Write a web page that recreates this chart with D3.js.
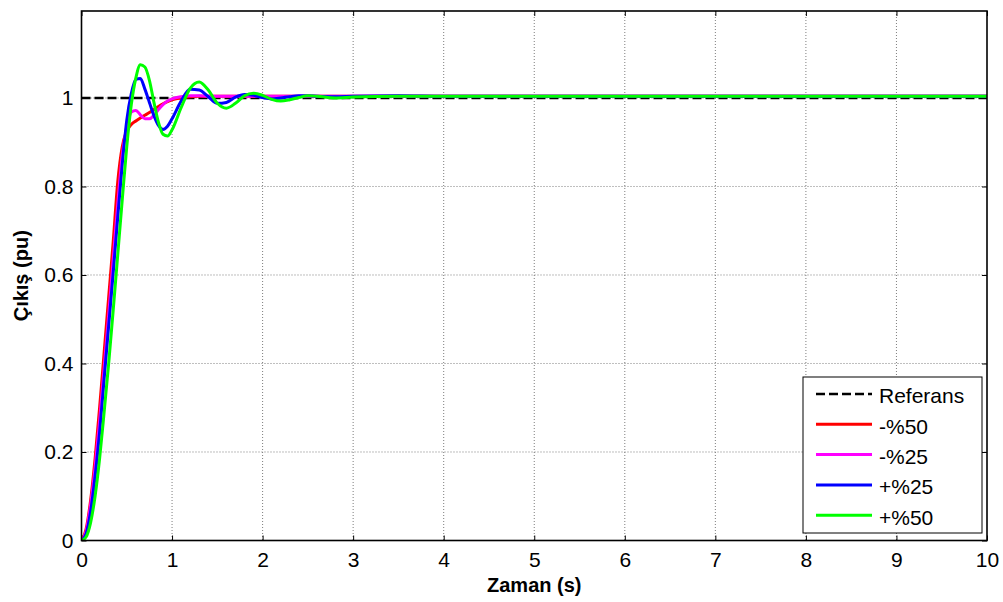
<!DOCTYPE html>
<html>
<head>
<meta charset="utf-8">
<script src="https://cdn.jsdelivr.net/npm/d3@7"></script>
<style>
html,body{margin:0;padding:0;background:#fff;}
svg{display:block;font-family:"Liberation Sans",Arial,sans-serif;}
</style>
</head>
<body>
<svg id="chart" width="1003" height="602"></svg>
<script>
// ---- data ----
const time = [0,0.05,0.1,0.15,0.2,0.25,0.3,0.35,0.4,0.45,0.5,0.55,0.6,0.65,0.7,0.75,0.8,0.85,0.9,0.95,1.0,1.1,1.2,1.3,1.4,1.5,1.6,1.7,1.8,1.9,2.0,2.1,2.2,2.3,2.4,2.5,2.6,2.8,3.0,3.5,4,5,6,7,8,9,10];
const referans = time.map(() => 1);
const minus50 = [0,0.025,0.09,0.185,0.3,0.425,0.55,0.675,0.81,0.89,0.925,0.94,0.948,0.955,0.961,0.967,0.974,0.981,0.987,0.992,0.996,1.0,1.003,
  1.004,1.004,1.004,1.004,1.004,1.004,1.004,1.004,1.004,1.004,1.004,1.004,1.004,1.004,1.004,1.004,1.004,1.004,1.004,1.004,1.004,1.004,1.004,1.004];
const minus25 = [0,0.02,0.08,0.165,0.27,0.39,0.51,0.635,0.76,0.87,0.935,0.968,0.972,0.962,0.953,0.953,0.961,0.974,0.985,0.993,0.998,1.003,1.005,
  1.005,1.004,1.004,1.004,1.004,1.004,1.004,1.004,1.004,1.004,1.004,1.004,1.004,1.004,1.004,1.004,1.004,1.004,1.004,1.004,1.004,1.004,1.004,1.004];
const plus25 = [0,0.015,0.065,0.145,0.245,0.365,0.485,0.605,0.73,0.85,0.95,1.01,1.042,1.044,1.02,0.99,0.96,0.938,0.929,0.936,0.953,0.993,1.02,
  1.018,1.003,0.988,0.99,1.002,1.008,1.006,1.001,0.998,1.0,1.003,1.005,1.005,1.004,1.003,1.004,1.005,1.004,1.004,1.004,1.004,1.004,1.004,1.004];
const plus50 = [0,0.008,0.04,0.1,0.185,0.29,0.4,0.52,0.645,0.77,0.89,0.985,1.045,1.075,1.07,1.04,0.99,0.945,0.918,0.914,0.928,0.978,1.022,
  1.036,1.018,0.988,0.977,0.988,1.005,1.011,1.006,0.997,0.993,0.996,1.001,1.005,1.004,1.0,1.002,1.004,1.004,1.004,1.004,1.004,1.004,1.004,1.004];
const xTicks = [0,1,2,3,4,5,6,7,8,9,10];
const yTicks = [0,0.2,0.4,0.6,0.8,1];
const seriesNames = ["Referans","-%50","-%25","+%25","+%50"];
const seriesColors = ["#000000","#ff0000","#ff00ff","#0000ff","#00ff00"];
const seriesData = [referans, minus50, minus25, plus25, plus50];

// ---- layout ----
const L = 81.5, R = 987, T = 11, B = 540.5;
const svg = d3.select("#chart");
const x = d3.scaleLinear().domain([0,10]).range([L,R]);
const y = d3.scaleLinear().domain([0,1.1966]).range([B,T]);

// grid
const grid = svg.append("g").attr("stroke","#6e6e6e").attr("stroke-width",0.9).attr("stroke-dasharray","1,2");
xTicks.filter(d => d>0 && d<10).forEach(d => {
  grid.append("line").attr("x1",x(d)).attr("x2",x(d)).attr("y1",T).attr("y2",B);
});
yTicks.filter(d => d>0).forEach(d => {
  grid.append("line").attr("x1",L).attr("x2",R).attr("y1",y(d)).attr("y2",y(d));
});

// axes with inward ticks
const tickLen = 5;
const axB = svg.append("g").attr("transform",`translate(0,${B})`)
  .call(d3.axisBottom(x).tickValues(xTicks).tickSize(-tickLen).tickPadding(12).tickFormat(d3.format("d")));
const axT = svg.append("g").attr("transform",`translate(0,${T})`)
  .call(d3.axisTop(x).tickValues(xTicks).tickSize(-tickLen).tickFormat(""));
const axL = svg.append("g").attr("transform",`translate(${L},0)`)
  .call(d3.axisLeft(y).tickValues(yTicks).tickSize(-tickLen).tickPadding(8).tickFormat(d => d===0||d===1 ? d3.format("d")(d) : d3.format(".1f")(d)));
const axR = svg.append("g").attr("transform",`translate(${R},0)`)
  .call(d3.axisRight(y).tickValues(yTicks).tickSize(-tickLen).tickFormat(""));
[axB,axT,axL,axR].forEach(a => {
  a.select(".domain").remove();
  a.selectAll(".tick line").attr("stroke","#000").attr("stroke-width",1);
  a.selectAll(".tick text").attr("fill","#000").style("font-size","21px").style("font-family","'Liberation Sans',Arial,sans-serif");
});

// lines
const clip = svg.append("clipPath").attr("id","clip").append("rect")
  .attr("x",L).attr("y",T).attr("width",R-L).attr("height",B-T);
const lineGen = vals => d3.line().x((d,i)=>x(time[i])).y(d=>y(d)).curve(d3.curveMonotoneX)(vals);
const plotG = svg.append("g").attr("clip-path","url(#clip)");
seriesData.forEach((vals,k) => {
  plotG.append("path").attr("d",lineGen(vals)).attr("fill","none")
    .attr("stroke",seriesColors[k]).attr("stroke-width", k===0 ? 2.6 : 3)
    .attr("stroke-dasharray", k===0 ? "9,4" : null)
    .attr("stroke-linejoin","round");
});

// box
svg.append("rect").attr("x",L).attr("y",T).attr("width",R-L).attr("height",B-T)
  .attr("fill","none").attr("stroke","#000").attr("stroke-width",1.6);

// axis labels
svg.append("text").attr("x",(L+R)/2).attr("y",592).attr("text-anchor","middle")
  .style("font-weight","bold").style("font-size","20px").text("Zaman (s)");
svg.append("text").attr("transform",`translate(28,${(T+B)/2}) rotate(-90)`).attr("text-anchor","middle")
  .style("font-weight","bold").style("font-size","20px").text("Çıkış (pu)");

// legend
const lg = svg.append("g");
lg.append("rect").attr("x",803).attr("y",377).attr("width",179).attr("height",156)
  .attr("fill","#fff").attr("stroke","#000").attr("stroke-width",1);
seriesNames.forEach((n,k) => {
  const cy = 396 + k*30.3;
  lg.append("line").attr("x1",816).attr("x2",872).attr("y1",cy-2).attr("y2",cy-2)
    .attr("stroke",seriesColors[k]).attr("stroke-width", k===0 ? 2.6 : 3)
    .attr("stroke-dasharray", k===0 ? "9,4" : null);
  lg.append("text").attr("x",879).attr("y",cy).attr("dy","0.35em")
    .style("font-size","21px").text(n);
});
</script>
</body>
</html>
